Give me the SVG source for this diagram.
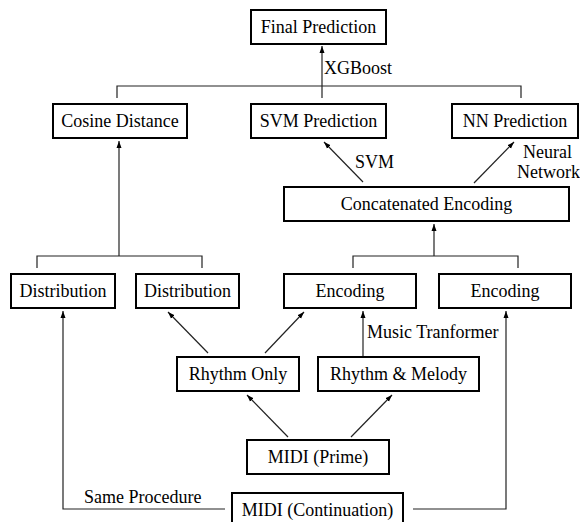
<svg xmlns="http://www.w3.org/2000/svg" width="580" height="522" viewBox="0 0 580 522" font-family="Liberation Serif, Times New Roman, serif" font-size="18">
<style>
.box{fill:#fff;stroke:#000;stroke-width:2}
.c{text-anchor:middle}
.ln{fill:none;stroke:#222;stroke-width:1.2}
.ar{fill:none;stroke:#222;stroke-width:1.2;marker-end:url(#ah)}
</style>
<defs>
<marker id="ah" markerWidth="8" markerHeight="8" refX="7" refY="4" orient="auto" markerUnits="userSpaceOnUse">
<path d="M0,1.5 L7,4 L0,6.5 z" fill="#000"/>
</marker>
</defs>
<rect width="580" height="522" fill="#fff"/>
<g id="connectors">
<polyline class="ln" points="117,98 117,86 521,86 521,98"/>
<line class="ar" x1="322" y1="98" x2="322" y2="46"/>
<text x="324" y="74">XGBoost</text>
<line class="ar" x1="363" y1="182" x2="324" y2="142"/>
<text x="355" y="168">SVM</text>
<line class="ar" x1="474" y1="183" x2="514" y2="142"/>
<text x="523" y="158">Neural</text>
<text x="517" y="178">Network</text>
<polyline class="ln" points="37,268 37,256 202,256 202,268"/>
<line class="ar" x1="119" y1="256" x2="119" y2="141"/>
<polyline class="ln" points="353,268 353,256 518,256 518,268"/>
<line class="ar" x1="434" y1="256" x2="434" y2="224"/>
<line class="ar" x1="208" y1="353" x2="168" y2="312"/>
<line class="ar" x1="265" y1="353" x2="304" y2="312"/>
<line class="ar" x1="363" y1="357" x2="363" y2="311"/>
<text x="367" y="338">Music Tranformer</text>
<line class="ar" x1="288" y1="437" x2="247" y2="395"/>
<line class="ar" x1="351" y1="437" x2="392" y2="395"/>
<polyline class="ar" points="225,509 63,509 63,311"/>
<text x="84" y="503">Same Procedure</text>
<polyline class="ar" points="413,509 506,509 506,311"/>
</g>
<g id="final"><rect class="box" x="251" y="10" width="135" height="34"/><text class="c" x="318.5" y="33">Final Prediction</text></g>
<g id="cosine"><rect class="box" x="53" y="104" width="134" height="34"/><text class="c" x="120" y="127">Cosine Distance</text></g>
<g id="svm"><rect class="box" x="251" y="104" width="135" height="34"/><text class="c" x="318.5" y="127">SVM Prediction</text></g>
<g id="nn"><rect class="box" x="452" y="104" width="126" height="34"/><text class="c" x="515" y="127">NN Prediction</text></g>
<g id="concat"><rect class="box" x="284" y="187" width="285" height="34"/><text class="c" x="426.5" y="210">Concatenated Encoding</text></g>
<g id="dist1"><rect class="box" x="11" y="274" width="104" height="34"/><text class="c" x="63" y="297">Distribution</text></g>
<g id="dist2"><rect class="box" x="136" y="274" width="103" height="34"/><text class="c" x="187.5" y="297">Distribution</text></g>
<g id="enc1"><rect class="box" x="284" y="274" width="132" height="34"/><text class="c" x="350" y="297">Encoding</text></g>
<g id="enc2"><rect class="box" x="439" y="274" width="132" height="34"/><text class="c" x="505" y="297">Encoding</text></g>
<g id="rhythm"><rect class="box" x="177" y="357" width="122" height="34"/><text class="c" x="238" y="380">Rhythm Only</text></g>
<g id="rhythmmel"><rect class="box" x="318" y="357" width="161" height="34"/><text class="c" x="398.5" y="380">Rhythm &amp; Melody</text></g>
<g id="prime"><rect class="box" x="247" y="440" width="142" height="34"/><text class="c" x="318" y="463">MIDI (Prime)</text></g>
<g id="cont"><rect class="box" x="232" y="493" width="171" height="36"/><text class="c" x="317.5" y="516">MIDI (Continuation)</text></g>
</svg>
